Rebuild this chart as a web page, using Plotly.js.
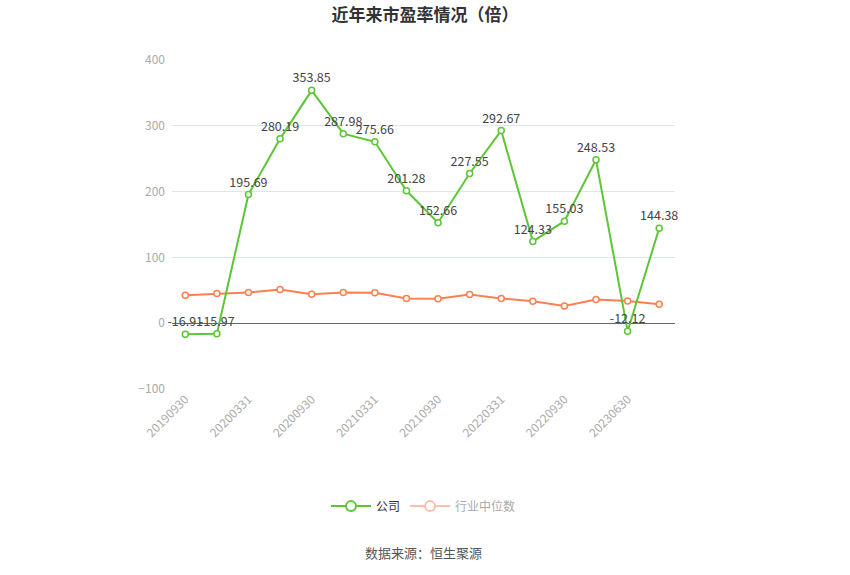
<!DOCTYPE html>
<html>
<head>
<meta charset="utf-8">
<script src="https://cdn.plot.ly/plotly-3.0.1.min.js"></script>
<style>
  body { margin: 0; background: #fff; }
  #chart { width: 850px; height: 575px; }
</style>
</head>
<body>
<div id="chart"></div>
<script>
// report dates (every other one gets a tick label)
var dates = ['20190930', '20191231', '20200331', '20200630', '20200930', '20201231',
  '20210331', '20210630', '20210930', '20211231', '20220331', '20220630',
  '20220930', '20221231', '20230630', '20230930'];

// company PE
var company = [-16.91, -15.97, 195.69, 280.19, 353.85, 287.98, 275.66, 201.28,
  152.66, 227.55, 292.67, 124.33, 155.03, 248.53, -12.12, 144.38];

// industry median PE
var industry = [42.6, 45.1, 46.6, 51.2, 44.1, 46.6, 46.1, 37.5,
  37.0, 43.6, 37.5, 33.4, 26.3, 36.0, 33.9, 28.9];

var green = '#5cc636';
var orange = '#ff7f50';

var tickVals = dates.filter((d, i) => i % 2 === 0);

var traces = [
  {
    x: dates, y: industry, type: 'scatter', mode: 'lines+markers',
    line: { color: orange, width: 2 },
    marker: { symbol: 'circle', size: 6, color: '#fff', line: { color: orange, width: 1.5 } },
    showlegend: false, hoverinfo: 'skip'
  },
  {
    x: dates, y: company, type: 'scatter', mode: 'lines+markers+text',
    text: company.map(v => v.toFixed(2)),
    textposition: 'top center',
    textfont: { color: '#444', size: 12.5 },
    line: { color: green, width: 2 },
    marker: { symbol: 'circle', size: 6, color: '#fff', line: { color: green, width: 1.5 } },
    showlegend: false, cliponaxis: false
  },
  // legend-only entries
  {
    x: [null], y: [null], type: 'scatter', mode: 'lines+markers',
    name: '<span style="color:#333">公司</span>',
    line: { color: green, width: 2 },
    marker: { size: 10, color: '#fff', line: { color: green, width: 2 } }
  },
  {
    x: [null], y: [null], type: 'scatter', mode: 'lines+markers',
    name: '<span style="color:#aaa">行业中位数</span>',
    line: { color: '#ffbfa8', width: 2 },
    marker: { size: 10, color: '#fff', line: { color: '#ffbfa8', width: 2 } }
  }
];

var layout = {
  width: 850, height: 575,
  margin: { l: 172, r: 175, t: 60, b: 186 },
  paper_bgcolor: '#fff', plot_bgcolor: '#fff',
  font: { family: '"Noto Sans CJK SC", "Noto Sans", sans-serif', size: 12, color: '#999' },
  title: {
    text: '<b>近年来市盈率情况（倍）</b>',
    x: 0.5, xanchor: 'center', y: 0.985, yanchor: 'top',
    font: { size: 17, color: '#333' }
  },
  xaxis: {
    type: 'category',
    range: [-0.42, 15.5],
    tickmode: 'array', tickvals: tickVals, ticktext: tickVals,
    tickangle: -45,
    ticks: '', showgrid: false, zeroline: false, showline: false,
    tickfont: { color: '#aaa', size: 12 }
  },
  yaxis: {
    range: [-100, 400], dtick: 100,
    showgrid: true, gridcolor: '#e0e6f1', gridwidth: 1,
    zeroline: true, zerolinecolor: '#666', zerolinewidth: 1,
    showline: false, ticks: '',
    ticklabelstandoff: 6,
    tickfont: { color: '#aaa', size: 12 }
  },
  legend: {
    orientation: 'h', x: 0.5, xanchor: 'center', y: -0.356, yanchor: 'middle',
    font: { size: 12 }, itemwidth: 40
  },
  annotations: [{
    text: '数据来源：恒生聚源', xref: 'paper', yref: 'paper',
    x: 0.5, y: -0.498, xanchor: 'center', yanchor: 'middle', showarrow: false,
    font: { size: 13, color: '#555' }
  }]
};

Plotly.newPlot('chart', traces, layout, { displayModeBar: false, staticPlot: true });
</script>
</body>
</html>
